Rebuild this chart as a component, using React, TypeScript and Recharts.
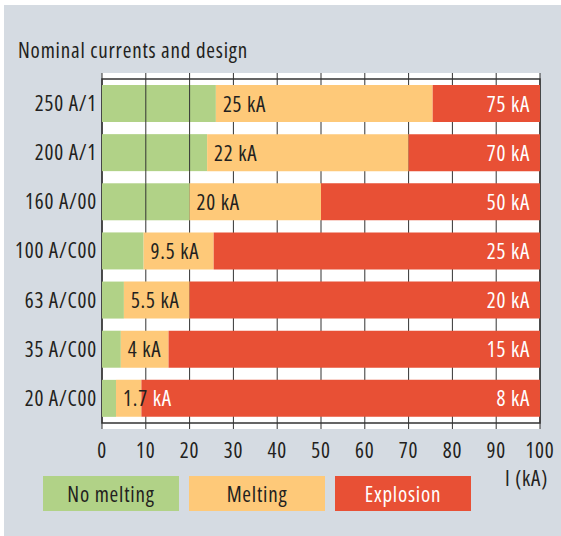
import { BarChart, Bar, XAxis, YAxis, CartesianGrid, LabelList, ReferenceArea } from "recharts";

const categories = ["250 A/1", "200 A/1", "160 A/00", "100 A/C00", "63 A/C00", "35 A/C00", "20 A/C00"];
// end of the green (no melting) part, kA
const noMelting = [26, 24, 20, 9.5, 5, 4.3, 3.2];
// end of the orange (melting) part, kA
const meltingEnd = [75.5, 70, 50, 25.5, 20, 15.2, 9];
const meltingLabels = ["25 kA", "22 kA", "20 kA", "9.5 kA", "5.5 kA", "4 kA", "1.7 kA"];
const explosionLabels = ["75 kA", "70 kA", "50 kA", "25 kA", "20 kA", "15 kA", "8 kA"];
const xTicks = [0, 10, 20, 30, 40, 50, 60, 70, 80, 90, 100];

const legendNames = ["No melting", "Melting", "Explosion"];
const COLORS = ["#b1d287", "#fec979", "#e85035"];
const TEXT = "#231f20";
const FONT = '"Open Sans", Roboto, sans-serif';
const FS = 21;

const data = categories.map((name, i) => ({
  name,
  green: noMelting[i],
  orange: meltingEnd[i] - noMelting[i],
  red: 100 - meltingEnd[i],
}));

// green part shows the grid lines through it
function GreenBar(props: any) {
  const { x, y, width, height, payload } = props;
  const unit = width / payload.green;
  const lines = [];
  for (let k = 10; k < payload.green; k += 10) {
    const lx = x + k * unit;
    lines.push(<line key={k} x1={lx} x2={lx} y1={y} y2={y + height} stroke="#333" strokeWidth={1} />);
  }
  return (
    <g>
      <rect x={x} y={y} width={width} height={height} fill={COLORS[0]} />
      {lines}
    </g>
  );
}

// both labels drawn on top of the red bar so overflowing text stays visible
function BarLabels(props: any) {
  const vb = props.viewBox || props;
  const { x, y, width, height } = vb;
  const i = props.index;
  const d = data[i];
  const unit = width / d.red;
  const orangePx = d.orange * unit;
  const meltX = x - orangePx + 7;
  const cy = y + height / 2;
  const [num, kA] = meltingLabels[i].split(" ");
  return (
    <g fontSize={FS}>
      <text x={meltX} y={cy} dominantBaseline="central" fill={TEXT}>
        {num}
        <tspan fill={orangePx < 35 ? "#fff" : TEXT}> {kA}</tspan>
      </text>
      <text x={x + width - 10} y={cy} dominantBaseline="central" textAnchor="end" fill="#fff">
        {explosionLabels[i]}
      </text>
    </g>
  );
}

export default function App() {
  return (
    <div
      style={{
        position: "absolute",
        left: 0,
        top: 0,
        width: 561,
        height: 536,
        background: "#fff",
        fontFamily: FONT,
        fontStretch: "condensed",
        letterSpacing: "0.8px",
        color: TEXT,
      }}
    >
      <div style={{ position: "absolute", left: 4, top: 5, right: 0, bottom: 0, background: "#d5dbe2" }} />
      <div style={{ position: "absolute", left: 18, top: 40, fontSize: FS, lineHeight: "20px", whiteSpace: "nowrap" }}>
        Nominal currents and design
      </div>
      <div style={{ position: "absolute", left: 0, top: 0 }}>
        <BarChart
          width={561}
          height={536}
          data={data}
          layout="vertical"
          barSize={37}
          margin={{ top: 73, right: 21, bottom: 77, left: 12 }}
        >
          <CartesianGrid horizontal={false} stroke="#333" fill="#fff" />
          <XAxis
            type="number"
            domain={[0, 100]}
            ticks={xTicks}
            axisLine={false}
            tickLine={false}
            tickSize={0}
            tickMargin={14}
            height={30}
            tick={{ fill: TEXT, fontSize: FS }}
          />
          <YAxis
            type="category"
            dataKey="name"
            width={90}
            axisLine={false}
            tickLine={false}
            tickSize={0}
            tickMargin={5}
            padding={{ top: 6, bottom: 6 }}
            tick={{ fill: TEXT, fontSize: FS }}
          />
          <Bar dataKey="green" stackId="a" fill={COLORS[0]} shape={GreenBar} isAnimationActive={false} />
          <Bar dataKey="orange" stackId="a" fill={COLORS[1]} isAnimationActive={false} />
          <Bar dataKey="red" stackId="a" fill={COLORS[2]} isAnimationActive={false}>
            <LabelList dataKey="red" content={BarLabels} />
          </Bar>
          <ReferenceArea x1={0} x2={100} fill="none" stroke="#333" strokeWidth={1.5} ifOverflow="visible" />
        </BarChart>
      </div>
      {legendNames.map((n, i) => (
        <div
          key={n}
          style={{
            position: "absolute",
            left: 43 + i * 146,
            top: 476,
            width: 136,
            height: 35,
            background: COLORS[i],
            color: i === 2 ? "#fff" : TEXT,
            fontSize: FS,
            display: "flex",
            alignItems: "center",
            justifyContent: "center",
          }}
        >
          {n}
        </div>
      ))}
      <div style={{ position: "absolute", left: 448, top: 468, width: 100, textAlign: "right", fontSize: FS, lineHeight: "20px" }}>
        I (kA)
      </div>
    </div>
  );
}
